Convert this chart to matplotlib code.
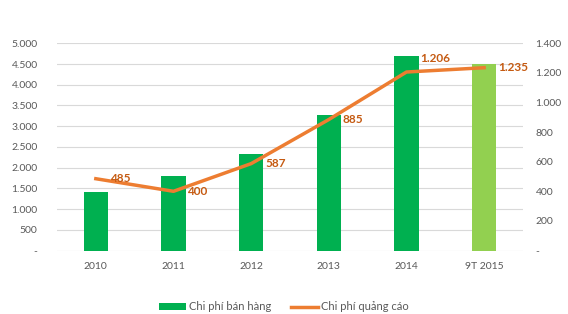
import matplotlib.pyplot as plt
from matplotlib.ticker import FuncFormatter

years = ["2010", "2011", "2012", "2013", "2014", "9T 2015"]
sales_cost = [1410, 1800, 2320, 3270, 4690, 4500]
ads_cost = [485, 400, 587, 885, 1206, 1235]
bar_colors = ["#00B050"] * 5 + ["#92D050"]

plt.rcParams['font.family'] = ['Lato', 'DejaVu Sans']


def vn_fmt(v, pos=None):
    if v == 0:
        return "-"
    return f"{int(v):,}".replace(",", ".")


fig = plt.figure(figsize=(5.68, 3.14), dpi=100)
ax = fig.add_axes([57 / 568, 1 - 250.5 / 314, 466 / 568, 207.2 / 314])
ax2 = ax.twinx()

x = range(len(years))
ax.bar(x, sales_cost, width=0.31, color=bar_colors, zorder=2, label="Chi phí bán hàng")
ax2.plot(x, ads_cost, color="#ED7D31", linewidth=2.5, zorder=3, label="Chi phí quảng cáo")
for i, v in enumerate(ads_cost):
    dy = 10 if i == 4 else 0
    ax2.annotate(vn_fmt(v), (i, v), xytext=(10, dy), textcoords="offset points",
                 ha="left", va="center", zorder=5,
                 color="#C55A11", fontsize=8.5, fontweight="bold")

ax.set_ylim(0, 5000)
ax.set_yticks(range(0, 5001, 500))
ax2.set_ylim(0, 1400)
ax2.set_yticks(range(0, 1401, 200))
ax.set_xlim(-0.5, len(years) - 0.5)
ax.set_xticks(list(x))
ax.set_xticklabels(years)
ax.yaxis.set_major_formatter(FuncFormatter(vn_fmt))
ax2.yaxis.set_major_formatter(FuncFormatter(vn_fmt))

ax.grid(axis="y", color="#D9D9D9", linewidth=0.8, zorder=0)
ax.set_axisbelow(True)
for a in (ax, ax2):
    for s in a.spines.values():
        s.set_visible(False)
    a.tick_params(length=0, labelsize=7.5, colors="#595959")
ax.tick_params(axis="y", pad=14)
ax2.tick_params(axis="y", pad=9)
ax.tick_params(axis="x", pad=8)

h1, l1 = ax.get_legend_handles_labels()
h2, l2 = ax2.get_legend_handles_labels()
fig.legend(h1 + h2, l1 + l2, loc="center", bbox_to_anchor=(0.5, 1 - 307 / 314),
           ncol=2, frameon=False, fontsize=8, labelcolor="#595959",
           handlelength=2.4, handleheight=0.6, columnspacing=1.8, handletextpad=0.3)

fig.savefig("out.png", dpi=100)
